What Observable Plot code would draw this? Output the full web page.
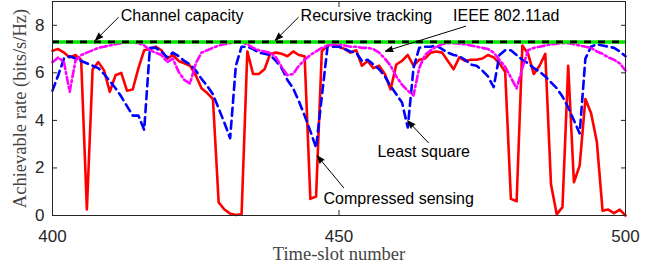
<!DOCTYPE html>
<html><head><meta charset="utf-8">
<script src="https://cdn.jsdelivr.net/npm/d3@7"></script>
<script src="https://cdn.jsdelivr.net/npm/@observablehq/plot@0.6"></script>
<style>body{margin:0;background:#fff} #chart svg{display:block}</style>
</head><body><div id="chart"></div><script>
const slots = d3.range(400, 501);
const compressedSensing = [6.93,7.0,6.85,6.65,6.75,6.55,0.25,6.15,6.45,6.1,5.2,5.9,6.0,5.25,5.3,6.2,6.95,7.0,7.1,6.95,6.6,6.75,6.5,6.4,6.3,5.9,5.35,5.15,4.9,0.55,0.25,0.08,0.02,0.05,6.9,5.95,5.95,6.15,6.8,6.85,6.8,6.7,6.9,6.75,6.7,0.7,0.8,6.9,7.15,7.2,7.1,7.0,6.85,6.95,6.3,6.5,6.2,6.3,5.95,5.3,6.35,6.5,6.75,6.3,6.55,6.6,6.85,6.9,6.85,6.5,6.15,6.65,6.5,6.55,6.55,6.6,6.75,6.65,6.4,6.05,0.7,0.6,7.15,6.8,5.95,6.3,6.8,1.3,0.05,0.35,6.3,1.4,2.1,4.9,4.3,3.1,0.2,0.25,0.1,0.25,0.0];
const leastSquare = [5.25,5.9,6.6,6.7,6.6,6.5,6.4,6.3,6.2,5.95,5.65,5.35,5.0,4.6,4.2,4.2,3.6,7.05,7.05,6.9,6.65,6.85,6.7,6.5,6.35,6.1,5.75,5.45,5.1,4.5,3.9,3.25,6.3,7.1,7.1,7.0,6.85,6.8,6.75,6.5,6.2,5.7,5.35,4.8,4.2,3.55,2.85,5.0,7.1,7.1,7.1,7.0,6.9,6.85,6.5,6.55,6.35,6.15,5.85,5.45,5.1,4.75,3.7,6.2,7.05,7.1,7.1,7.15,7.0,6.85,6.75,6.7,6.55,6.35,6.3,6.1,5.85,5.4,6.75,6.95,6.95,6.75,6.55,6.4,6.2,6.05,5.85,5.6,5.35,5.0,4.55,4.0,3.45,6.6,7.1,7.2,7.15,7.1,7.05,6.9,6.7];
const ieee80211ad = [6.45,6.65,6.45,5.2,6.5,6.75,6.85,6.95,7.05,7.1,7.15,7.2,7.25,7.28,7.28,7.25,7.15,6.95,6.85,6.75,6.45,6.6,6.05,5.7,5.55,6.4,6.85,6.95,7.05,7.15,7.2,7.25,7.28,7.3,7.2,7.05,6.95,6.9,6.85,6.65,6.25,5.9,5.95,6.3,6.55,6.75,6.9,7.05,7.15,7.2,7.2,7.15,7.1,7.1,7.05,7.05,7.0,6.85,6.6,6.3,5.85,5.5,5.25,5.05,6.2,6.75,6.95,7.1,7.2,7.25,7.25,7.22,7.2,7.15,7.1,7.05,7.0,6.85,6.55,6.25,5.8,5.35,6.2,6.95,7.05,7.1,7.15,7.2,7.22,7.25,7.25,7.2,7.15,7.1,7.05,6.9,6.8,6.65,6.55,6.4,6.1];
const recursiveTracking = 7.3;
const channelCapacity = 7.3;
const xTicks = [400, 450, 500];
const yTicks = [0, 2, 4, 6, 8];
const xLabel = "Time-slot number";
const yLabel = "Achievable rate (bits/s/Hz)";
const annLabels = ["Channel capacity", "Recursive tracking", "IEEE 802.11ad", "Least square", "Compressed sensing"];
const annTextX = [411.9, 443.3, 469.9, 456.7, 447.3];
const annTextY = [8.4, 8.4, 8.4, 2.68, 0.71];
const arrowFromX = [411.5, 442.9, 472.1, 465.6, 450.8];
const arrowFromY = [8.33, 8.33, 7.96, 3.06, 1.17];
const arrowToX = [407.5, 438.9, 458.1, 462.0, 446.2];
const arrowToY = [7.37, 7.37, 6.91, 3.98, 2.51];

const rows = slots.map((t, i) => ({t, cs: compressedSensing[i], ls: leastSquare[i], ieee: ieee80211ad[i]}));
const ann = annLabels.map((label, i) => ({label, tx: annTextX[i], ty: annTextY[i], x1: arrowFromX[i], y1: arrowFromY[i], x2: arrowToX[i], y2: arrowToY[i]}));

const axisColor = "#262626";
const plot = Plot.plot({
  width: 664, height: 267,
  marginLeft: 52, marginRight: 39, marginTop: 1, marginBottom: 52,
  style: {fontFamily: "Liberation Sans, Arial, sans-serif", fontSize: "17px", background: "#fff", color: axisColor},
  x: {domain: [400, 500], ticks: xTicks},
  y: {domain: [0, 9], ticks: yTicks},
  marks: [
    Plot.line(rows, {x: "t", y: "cs", stroke: "#ff0000", strokeWidth: 2.6}),
    Plot.line(rows, {x: "t", y: "ls", stroke: "#0000ff", strokeWidth: 2.6, strokeDasharray: "8,5"}),
    Plot.line(rows, {x: "t", y: "ieee", stroke: "#ff00ff", strokeWidth: 2.6, strokeDasharray: "7,3,2,3"}),
    Plot.ruleY([recursiveTracking], {stroke: "#00e600", strokeWidth: 3.5}),
    Plot.ruleY([channelCapacity], {stroke: "#000", strokeWidth: 2.6, strokeDasharray: "7,7"}),
    Plot.frame({stroke: axisColor}),
    Plot.axisY({ticks: yTicks, anchor: "left", tickSize: 5, insetLeft: 5, fill: "none", label: null}),
    Plot.axisY({ticks: yTicks, anchor: "right", tickSize: 5, insetRight: 5, fill: "none", label: null}),
    Plot.axisX({ticks: xTicks, anchor: "bottom", tickSize: 5, insetBottom: 5, fill: "none", label: null}),
    Plot.axisX({ticks: xTicks, anchor: "top", tickSize: 5, insetTop: 5, fill: "none", label: null}),
    Plot.axisY({ticks: yTicks, anchor: "left", tickSize: 0, tickPadding: 8, stroke: "none", label: null, fontSize: 17}),
    Plot.axisX({ticks: xTicks, anchor: "bottom", tickSize: 0, tickPadding: 14, stroke: "none", label: null, fontSize: 17}),
    Plot.text([xLabel], {frameAnchor: "bottom", dy: 39, textAnchor: "middle", lineAnchor: "middle", fontFamily: "Liberation Serif, Times New Roman, serif", fontSize: 18.5, fill: "#444"}),
    Plot.text([yLabel], {frameAnchor: "left", dx: -32, rotate: -90, textAnchor: "middle", lineAnchor: "middle", fontFamily: "Liberation Serif, Times New Roman, serif", fontSize: 18.5, fill: "#444"}),
    Plot.arrow(ann, {x1: "x1", y1: "y1", x2: "x2", y2: "y2", stroke: "#000", fill: "#000", strokeWidth: 1, headLength: 12, headAngle: 40}),
    Plot.text(ann, {x: "tx", y: "ty", text: "label", textAnchor: "start", lineAnchor: "middle", fontSize: 16, fill: "#000"})
  ]
});
document.getElementById("chart").appendChild(plot);
</script></body></html>
